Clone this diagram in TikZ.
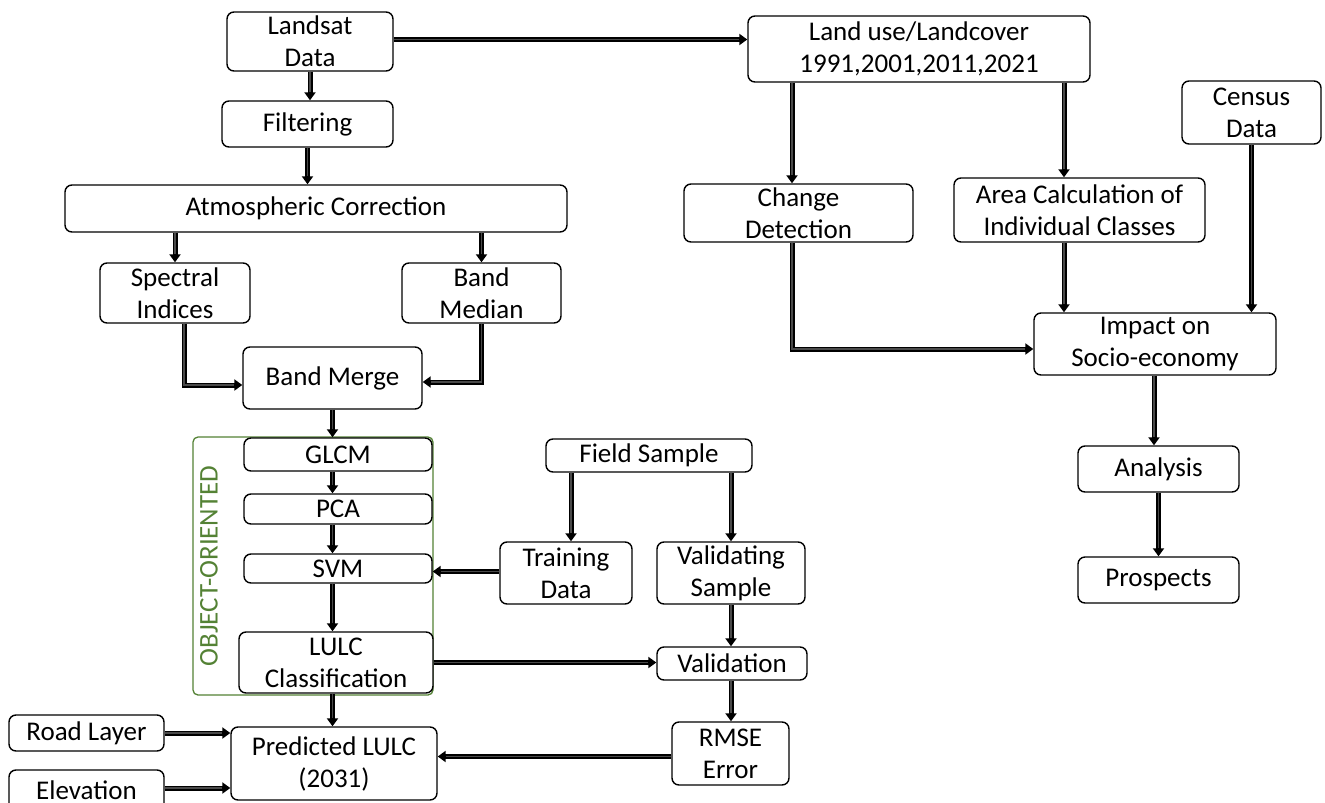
\documentclass[tikz,border=0pt]{standalone}
\usepackage{fontspec}
\setmainfont{Carlito}
\usetikzlibrary{arrows.meta,calc}
\definecolor{oogreen}{HTML}{548235}
\definecolor{conninner}{HTML}{4A4A4A}
\tikzset{
  box/.style={draw=black, line width=1.4pt, rounded corners=7pt, fill=white,
    align=center, inner sep=1pt, font=\fontsize{27}{32}\selectfont},
  conn/.style={draw=black, line width=5pt, -{Triangle[length=8pt,width=11pt]},
    postaction={draw=conninner, line width=1.6pt, -, shorten >=8pt}},
}
\begin{document}
\begin{tikzpicture}[x=1pt,y=-1pt]
\useasboundingbox (0,0) rectangle (1325,803);
\fill[white] (0,0) rectangle (1325,803);
% object-oriented frame
\draw[oogreen, line width=1.3pt, rounded corners=5pt] (193,437) rectangle (433,695);
\node[rotate=90, text=oogreen, font=\fontsize{27}{32}\selectfont] (oolabel) at (209,566) {OBJECT-ORIENTED};
% nodes
\node[box, minimum width=166pt, minimum height=59pt] (landsat) at (310,41.5) {Landsat\\Data};
\node[box, minimum width=171pt, minimum height=46pt] (filter) at (307.5,124) {Filtering};
\node[box, minimum width=502pt, minimum height=47pt] (atm) at (316,208.5) {Atmospheric Correction};
\node[box, minimum width=150pt, minimum height=60pt] (spectral) at (175,293) {Spectral\\Indices};
\node[box, minimum width=159pt, minimum height=60pt] (median) at (481.5,293) {Band\\Median};
\node[box, minimum width=179pt, minimum height=62pt] (merge) at (332.5,378) {Band Merge};
\node[box, minimum width=188pt, minimum height=33pt] (glcm) at (338,454.5) {GLCM};
\node[box, minimum width=188pt, minimum height=30pt] (pca) at (338,509) {PCA};
\node[box, minimum width=188pt, minimum height=29pt] (svm) at (338,568.5) {SVM};
\node[box, minimum width=194pt, minimum height=61pt] (lulc) at (336,662.5) {LULC\\Classification};
\node[box, minimum width=206pt, minimum height=73pt] (pred) at (334,763.5) {Predicted LULC\\(2031)};
\node[box, minimum width=155pt, minimum height=36pt] (road) at (86.5,733) {Road Layer};
\node[box, minimum width=155pt, minimum height=40pt] (elev) at (86.5,790) {Elevation};
\node[box, minimum width=206pt, minimum height=33pt] (field) at (649,455.5) {Field Sample};
\node[box, minimum width=132pt, minimum height=62pt] (train) at (566,573) {Training\\Data};
\node[box, minimum width=148pt, minimum height=62pt] (vsample) at (731,573) {Validating\\Sample};
\node[box, minimum width=150pt, minimum height=33pt] (valid) at (732,663.5) {Validation};
\node[box, minimum width=117pt, minimum height=63pt] (rmse) at (730.5,753.5) {RMSE\\Error};
\node[box, minimum width=342pt, minimum height=66pt] (landuse) at (919,49) {Land use/Landcover\\1991,2001,2011,2021};
\node[box, minimum width=139pt, minimum height=63pt] (census) at (1251.5,112.5) {Census\\Data};
\node[box, minimum width=229pt, minimum height=58pt] (change) at (798.5,213) {Change\\Detection};
\node[box, minimum width=251pt, minimum height=64pt] (area) at (1079.5,210) {Area Calculation of\\Individual Classes};
\node[box, minimum width=242pt, minimum height=62pt] (impact) at (1155,344) {Impact on\\Socio-economy};
\node[box, minimum width=161pt, minimum height=46pt] (analysis) at (1158.5,469) {Analysis};
\node[box, minimum width=161pt, minimum height=46pt] (prosp) at (1158.5,580) {Prospects};
% connectors
\draw[conn] (landsat.south) -- (landsat.south |- filter.north);
\draw[conn] ([yshift=2pt]landsat.east) -- ([yshift=2pt]landsat.east -| landuse.west);
\draw[conn] (filter.south) -- (filter.south |- atm.north);
\draw[conn] (spectral.north |- atm.south) -- (spectral.north);
\draw[conn] (median.north |- atm.south) -- (median.north);
\draw[conn] ([xshift=9pt]spectral.south) |- ([yshift=-7pt]merge.west);
\draw[conn] (median.south) |- ([yshift=-4pt]merge.east);
\draw[conn] (merge.south) -- (merge.south |- glcm.north);
\draw[conn] (merge.south |- glcm.south) -- (merge.south |- pca.north);
\draw[conn] (merge.south |- pca.south) -- (merge.south |- svm.north);
\draw[conn] (merge.south |- svm.south) -- (merge.south |- lulc.north);
\draw[conn] (merge.south |- lulc.south) -- (merge.south |- pred.north);
\draw[conn] (road.east) -- (road.east -| pred.west);
\draw[conn] ([yshift=2pt]elev.east) -- ([yshift=2pt]elev.east -| pred.west);
\draw[conn] ([yshift=1.5pt]train.west) -- ([yshift=1.5pt]train.west -| svm.east);
\draw[conn] ([xshift=5pt]train.north |- field.south) -- ([xshift=5pt]train.north);
\draw[conn] (vsample.north |- field.south) -- (vsample.north);
\draw[conn] (lulc.east) -- (lulc.east -| valid.west);
\draw[conn] (vsample.south) -- (vsample.south |- valid.north);
\draw[conn] (vsample.south |- valid.south) -- (vsample.south |- rmse.north);
\draw[conn] ([yshift=-3pt]rmse.west) -- ([yshift=-3pt]rmse.west -| pred.east);
\draw[conn] ([xshift=-6.5pt]change.north |- landuse.south) -- ([xshift=-6.5pt]change.north);
\draw[conn] ([xshift=-15.5pt]area.north |- landuse.south) -- ([xshift=-15.5pt]area.north);
\draw[conn] ([xshift=-6.5pt]change.south) |- ([yshift=-5pt]impact.west);
\draw[conn] ([xshift=-15.5pt]area.south) -- ([xshift=-15.5pt]area.south |- impact.north);
\draw[conn] (census.south) -- (census.south |- impact.north);
\draw[conn] ([xshift=-1pt]impact.south) -- ([xshift=-1pt]impact.south |- analysis.north);
\draw[conn] (analysis.south) -- (analysis.south |- prosp.north);
\end{tikzpicture}
\end{document}
